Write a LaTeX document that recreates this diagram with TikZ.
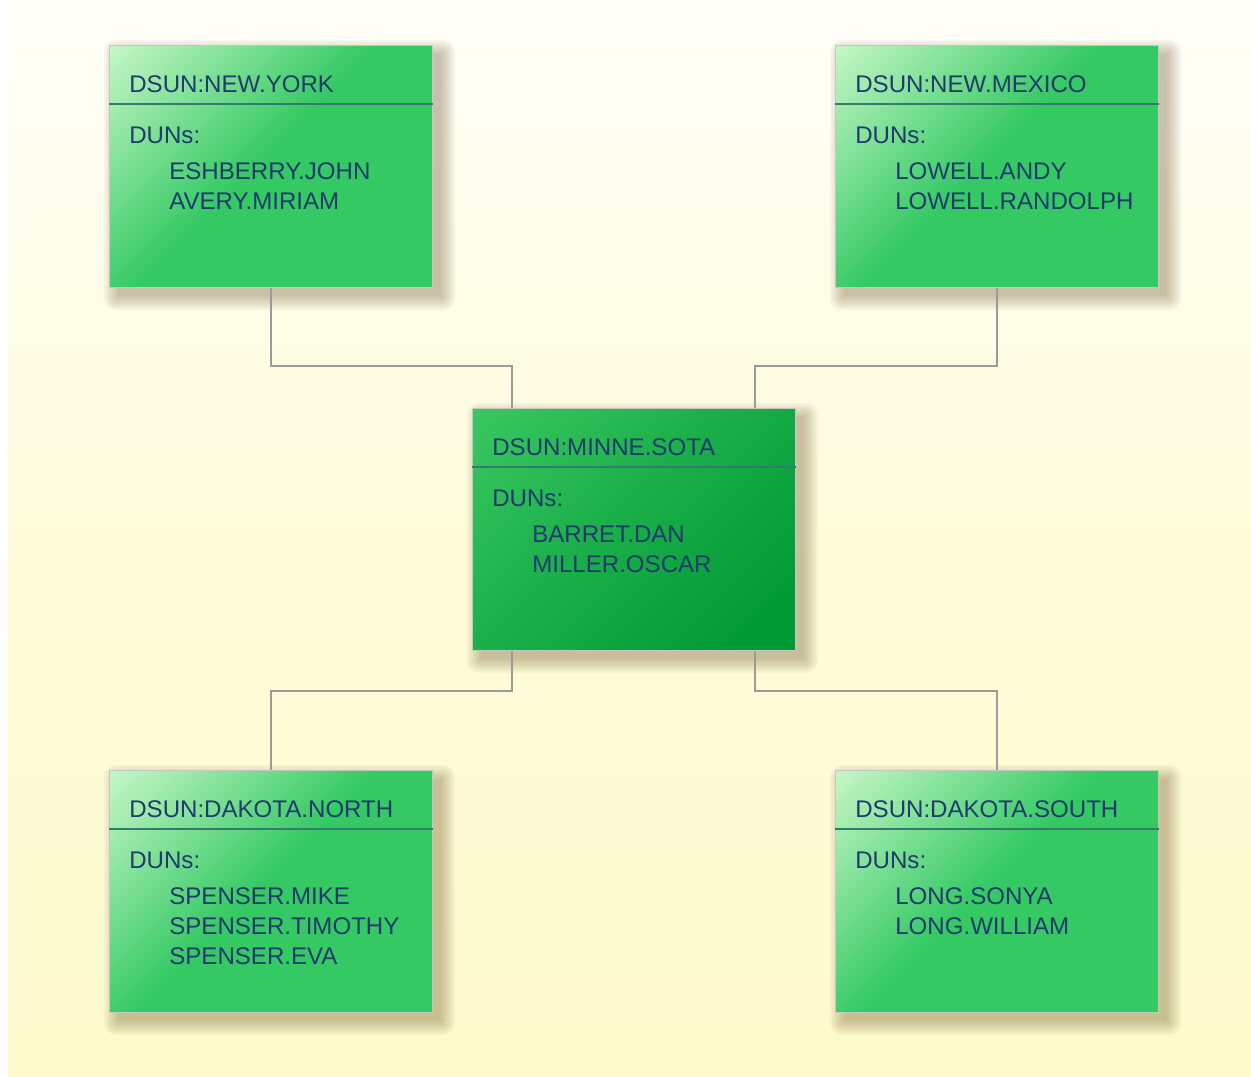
\documentclass[tikz,border=0pt]{standalone}
\usepackage{fontspec}
\setmainfont{Liberation Sans}
\usetikzlibrary{positioning}

\definecolor{dsunpale}{HTML}{C8F8C8}
\definecolor{dsungreen}{HTML}{35C964}
\definecolor{minnelight}{HTML}{3AC862}
\definecolor{minnemid}{HTML}{17AC46}
\definecolor{minnedark}{HTML}{009A35}
\definecolor{dsuntext}{HTML}{1E3B6C}
\definecolor{rulecolor}{HTML}{357A6E}
\definecolor{linkgray}{HTML}{9B9B9B}
\definecolor{shadowbrown}{HTML}{5A3A10}
\definecolor{bgtop}{HTML}{FEFEF8}
\definecolor{bgbottom}{HTML}{FDFBCD}

\pgfdeclareverticalshading{dsunshade}{100bp}{color(0bp)=(dsungreen); color(52bp)=(dsungreen); color(86bp)=(dsunpale); color(100bp)=(dsunpale)}
\pgfdeclareverticalshading{minneshade}{100bp}{color(0bp)=(minnedark); color(22bp)=(minnedark); color(50bp)=(minnemid); color(86bp)=(minnelight); color(100bp)=(minnelight)}

\tikzset{
  dsun/.style={rectangle, draw=gray!45, line width=0.5pt, anchor=north west, inner sep=0pt,
    minimum width=6.46cm, minimum height=4.84cm,
    path picture={\shade[shading=#1, shading angle=45] (path picture bounding box.south west) rectangle (path picture bounding box.north east);}},
  dsun/.default=dsunshade,
  minne/.style={dsun=minneshade},
  shadowpen/.style={fill=shadowbrown, opacity=0.045},
  dsuntitle/.style={anchor=base west, inner sep=0pt, text=dsuntext, font=\fontsize{13.7}{17}\selectfont},
  rulepen/.style={draw=rulecolor, line width=1.5pt},
  link/.style={draw=linkgray, line width=1.5pt},
}

% box: [style] name, north west corner, title, DUN list
\newcommand{\dsunbox}[5][dsun]{%
  \coordinate (#2-nw) at (#3);
  \foreach \e in {0,2,...,14}
    \fill[shadowpen, rounded corners=\e*0.5pt] ([shift={(9-\e,9-\e)}]#2-nw) rectangle ([shift={(332+\e,251+\e)}]#2-nw);
  \node[#1] (#2) at (#2-nw) {};
  \draw[rulepen] ([shift={(0,59)}]#2.north west) -- ([shift={(0,59)}]#2.north east);
  \node[dsuntitle] (#2-title) at ([shift={(20,47.5)}]#2.north west) {#4};
  \node[dsuntitle] (#2-duns) at ([shift={(20,98.5)}]#2.north west) {DUNs:};
  \foreach \who [count=\i] in {#5}
    \node[dsuntitle] (#2-n\i) at ([shift={(60,104.5+30*\i)}]#2.north west) {\who};
}

\begin{document}
\begin{tikzpicture}[x=0.02cm, y=-0.02cm]
    \useasboundingbox (0,0) rectangle (1251,1076);
    \shade[top color=bgtop, bottom color=bgbottom, middle color=bgbottom!70!bgtop] (8,0) rectangle (1251,1076);

    \dsunbox{ny}{109,45}{DSUN:NEW.YORK}{ESHBERRY.JOHN, AVERY.MIRIAM}
    \dsunbox{nm}{835,45}{DSUN:NEW.MEXICO}{LOWELL.ANDY, LOWELL.RANDOLPH}
    \dsunbox[minne]{mn}{472,408}{DSUN:MINNE.SOTA}{BARRET.DAN, MILLER.OSCAR}
    \dsunbox{dn}{109,770}{DSUN:DAKOTA.NORTH}{SPENSER.MIKE, SPENSER.TIMOTHY, SPENSER.EVA}
    \dsunbox{ds}{835,770}{DSUN:DAKOTA.SOUTH}{LONG.SONYA, LONG.WILLIAM}

    \draw[link] (ny.south) |- ([shift={(40,-42)}]mn.north west) -- ([shift={(40,0)}]mn.north west);
    \draw[link] (nm.south) |- ([shift={(-41,-42)}]mn.north east) -- ([shift={(-41,0)}]mn.north east);
    \draw[link] ([shift={(40,0)}]mn.south west) -- ++(0,40) -| (dn.north);
    \draw[link] ([shift={(-41,0)}]mn.south east) -- ++(0,40) -| (ds.north);
\end{tikzpicture}
\end{document}
